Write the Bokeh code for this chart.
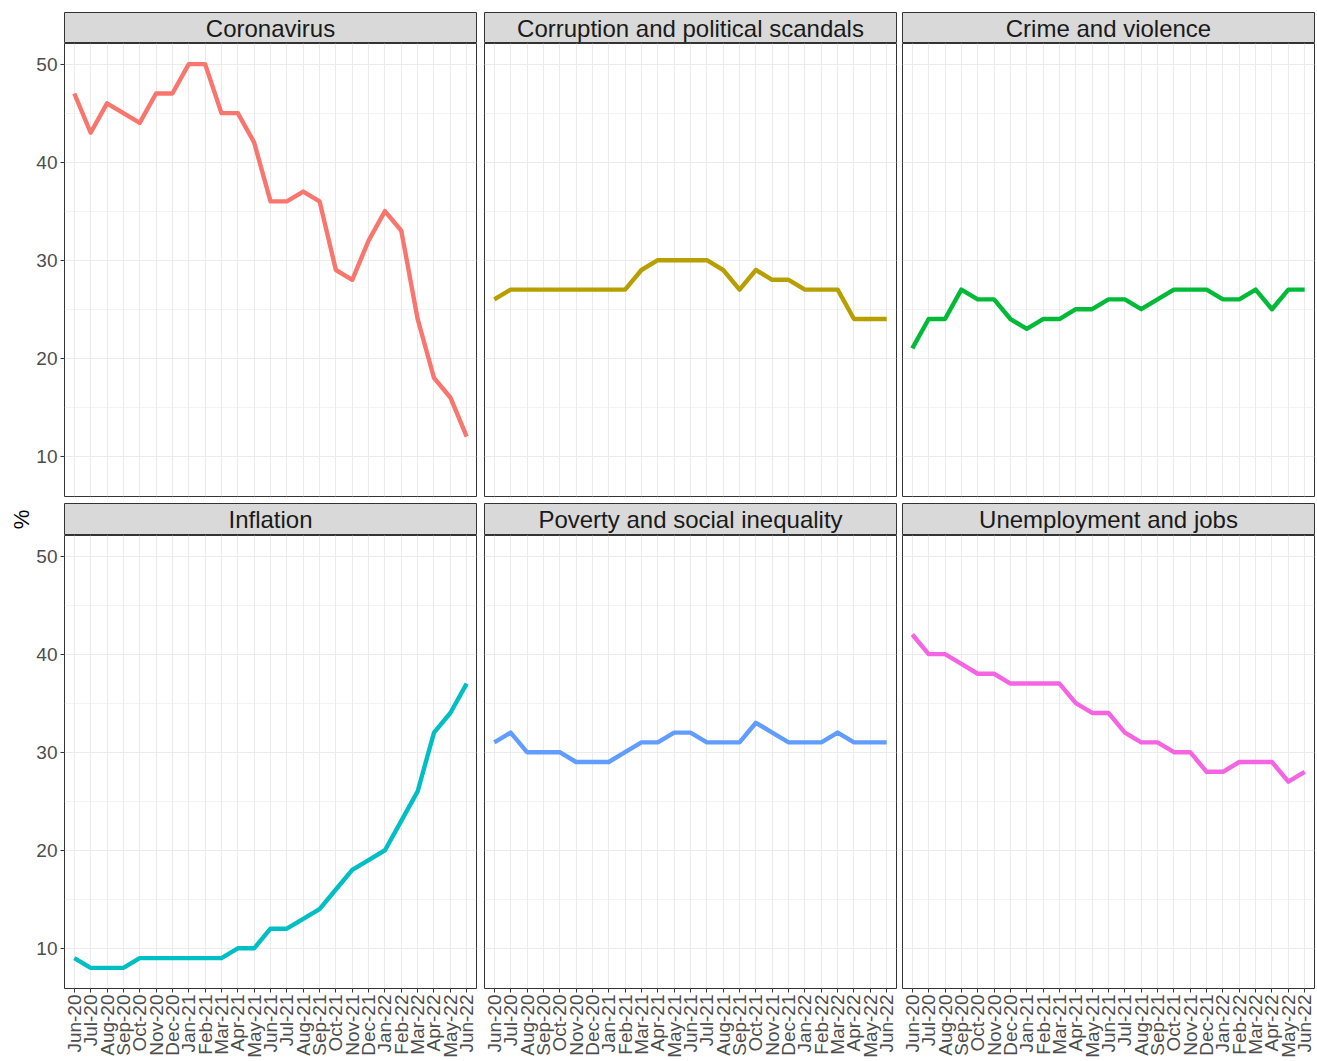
import math
from bokeh.plotting import figure
from bokeh.layouts import gridplot
from bokeh.models import FactorRange, Range1d, FixedTicker
from bokeh.core.properties import value
from bokeh.embed import file_html
from bokeh.resources import INLINE

months = ["Jun-20", "Jul-20", "Aug-20", "Sep-20", "Oct-20", "Nov-20", "Dec-20",
          "Jan-21", "Feb-21", "Mar-21", "Apr-21", "May-21", "Jun-21", "Jul-21",
          "Aug-21", "Sep-21", "Oct-21", "Nov-21", "Dec-21", "Jan-22", "Feb-22",
          "Mar-22", "Apr-22", "May-22", "Jun-22"]

categories = ["Coronavirus", "Corruption and political scandals", "Crime and violence",
              "Inflation", "Poverty and social inequality", "Unemployment and jobs"]

coronavirus = [47, 43, 46, 45, 44, 47, 47, 50, 50, 45, 45, 42, 36, 36, 37, 36, 29, 28, 32, 35, 33, 24, 18, 16, 12]
corruption = [26, 27, 27, 27, 27, 27, 27, 27, 27, 29, 30, 30, 30, 30, 29, 27, 29, 28, 28, 27, 27, 27, 24, 24, 24]
crime = [21, 24, 24, 27, 26, 26, 24, 23, 24, 24, 25, 25, 26, 26, 25, 26, 27, 27, 27, 26, 26, 27, 25, 27, 27]
inflation = [9, 8, 8, 8, 9, 9, 9, 9, 9, 9, 10, 10, 12, 12, 13, 14, 16, 18, 19, 20, 23, 26, 32, 34, 37]
poverty = [31, 32, 30, 30, 30, 29, 29, 29, 30, 31, 31, 32, 32, 31, 31, 31, 33, 32, 31, 31, 31, 32, 31, 31, 31]
unemployment = [42, 40, 40, 39, 38, 38, 37, 37, 37, 37, 35, 34, 34, 32, 31, 31, 30, 30, 28, 28, 29, 29, 29, 27, 28]

series = [coronavirus, corruption, crime, inflation, poverty, unemployment]
colors = ["#F8766D", "#B79F00", "#00BA38", "#00BFC4", "#619CFF", "#F564E3"]

y_major = [10, 20, 30, 40, 50]
y_minor = [15, 25, 35, 45]

FONT = "Liberation Sans"
FRAME_W = 412
FRAME_H = 453
LEFTS = [64, 7, 5]


def strip(i, col, top_pad, frame_h, ylabel=False):
    p = figure(frame_width=FRAME_W, frame_height=frame_h,
               x_range=Range1d(0, 1), y_range=Range1d(0, 1),
               min_border_left=LEFTS[col], min_border_right=1,
               min_border_top=top_pad, min_border_bottom=0,
               toolbar_location=None, output_backend="svg")
    p.xaxis.visible = False
    p.grid.visible = False
    if ylabel:
        ax = p.yaxis[0]
        ax.ticker = FixedTicker(ticks=[])
        ax.axis_line_color = None
        ax.major_tick_line_color = None
        ax.minor_tick_line_color = None
        ax.major_tick_out = 0
        ax.major_label_standoff = 0
        ax.axis_label = "%"
        ax.axis_label_text_font = FONT
        ax.axis_label_text_font_style = "normal"
        ax.axis_label_text_font_size = "22px"
        ax.axis_label_text_color = "#000000"
        ax.axis_label_standoff = 31
    else:
        p.yaxis.visible = False
    p.background_fill_color = "#D9D9D9"
    p.outline_line_color = "#333333"
    p.outline_line_width = 1
    p.text(x=[0.5], y=[0.5], text=[categories[i]], text_align="center",
           text_baseline="middle", text_font=value(FONT), text_font_size="24px",
           text_color="#1A1A1A")
    return p


def panel(i, col, bottom):
    p = figure(frame_width=FRAME_W, frame_height=FRAME_H,
               x_range=FactorRange(factors=months, range_padding=0.1,
                                   range_padding_units="absolute"),
               y_range=Range1d(5.9, 52.1),
               min_border_left=LEFTS[col], min_border_right=1,
               min_border_top=0, min_border_bottom=70 if bottom else 7,
               toolbar_location=None, output_backend="svg")
    p.background_fill_color = "white"
    p.outline_line_color = "#333333"
    p.outline_line_width = 1

    yt = FixedTicker(ticks=y_major, minor_ticks=y_minor)
    p.yaxis.ticker = yt
    p.ygrid.ticker = yt
    p.ygrid.grid_line_color = "#EBEBEB"
    p.ygrid.grid_line_width = 1.1
    p.ygrid.minor_grid_line_color = "#EBEBEB"
    p.ygrid.minor_grid_line_width = 0.6
    p.xgrid.grid_line_color = "#EBEBEB"
    p.xgrid.grid_line_width = 1.1

    if col == 0:
        ax = p.yaxis[0]
        ax.axis_line_color = None
        ax.major_tick_line_color = "#333333"
        ax.major_tick_out = 4
        ax.major_tick_in = 0
        ax.minor_tick_line_color = None
        ax.major_label_standoff = 3
        ax.major_label_text_font = FONT
        ax.major_label_text_font_size = "19px"
        ax.major_label_text_color = "#4D4D4D"
    else:
        p.yaxis.visible = False

    if bottom:
        ax = p.xaxis[0]
        ax.axis_line_color = None
        ax.major_tick_line_color = "#333333"
        ax.major_tick_out = 4
        ax.major_tick_in = 0
        ax.minor_tick_line_color = None
        ax.major_label_standoff = 2
        ax.major_label_orientation = math.pi / 2
        ax.major_label_text_font = FONT
        ax.major_label_text_font_size = "19px"
        ax.major_label_text_color = "#4D4D4D"
    else:
        p.xaxis.visible = False

    p.line(x=months, y=series[i], line_width=4.4, line_color=colors[i],
           line_join="round")
    return p


rows = [
    [strip(0, 0, 12, 31), strip(1, 1, 12, 31), strip(2, 2, 12, 31)],
    [panel(0, 0, False), panel(1, 1, False), panel(2, 2, False)],
    [strip(3, 0, 0, 32, ylabel=True), strip(4, 1, 0, 32), strip(5, 2, 0, 32)],
    [panel(3, 0, True), panel(4, 1, True), panel(5, 2, True)],
]

grid = gridplot(rows, toolbar_location=None)

with open("out.html", "w") as f:
    f.write(file_html(grid, INLINE))
